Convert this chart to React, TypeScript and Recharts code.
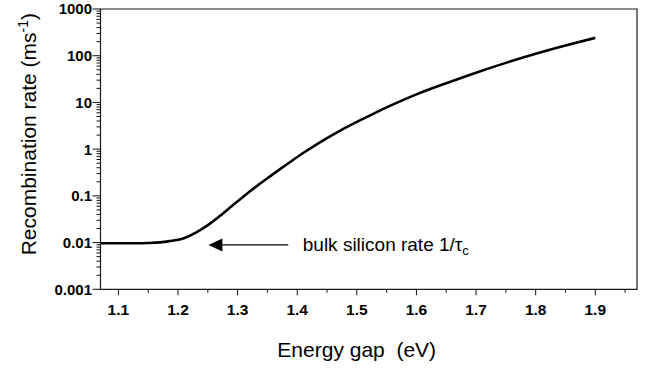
import React from "react";
import { LineChart, Line, XAxis, YAxis, ReferenceArea, ReferenceLine, Label } from "recharts";

// Energy gap (eV)
const energy = [1.07, 1.10, 1.13, 1.15, 1.17, 1.19, 1.21, 1.23, 1.25, 1.27, 1.29, 1.31, 1.33, 1.35, 1.37, 1.39, 1.41, 1.43, 1.45, 1.47, 1.50, 1.53, 1.56, 1.60, 1.65, 1.70, 1.75, 1.80, 1.85, 1.90];
// Recombination rate (ms^-1)
const rate = [0.0097, 0.0097, 0.0097, 0.0098, 0.0101, 0.0109, 0.0124, 0.0163, 0.0236, 0.0369, 0.0598, 0.097, 0.154, 0.238, 0.365, 0.552, 0.826, 1.21, 1.73, 2.41, 3.82, 5.92, 8.95, 14.9, 25.8, 43.4, 70.3, 110, 165, 241];

const xMajorTicks = [1.1, 1.2, 1.3, 1.4, 1.5, 1.6, 1.7, 1.8, 1.9];
const xMinorTicks = [1.15, 1.25, 1.35, 1.45, 1.55, 1.65, 1.75, 1.85, 1.95];
const xTickLabels = ["1.1", "1.2", "1.3", "1.4", "1.5", "1.6", "1.7", "1.8", "1.9"];

const yMajorTicks = [0.001, 0.01, 0.1, 1, 10, 100, 1000];
const yTickLabels = ["0.001", "0.01", "0.1", "1", "10", "100", "1000"];
const yMinorTicks = [
  0.002, 0.003, 0.004, 0.005, 0.006, 0.007, 0.008, 0.009,
  0.02, 0.03, 0.04, 0.05, 0.06, 0.07, 0.08, 0.09,
  0.2, 0.3, 0.4, 0.5, 0.6, 0.7, 0.8, 0.9,
  2, 3, 4, 5, 6, 7, 8, 9,
  20, 30, 40, 50, 60, 70, 80, 90,
  200, 300, 400, 500, 600, 700, 800, 900,
];

const xDomain = [1.07, 1.97];
const yDomain = [0.001, 1000];

const arrowFrom = { x: 1.385, y: 0.0089 };
const arrowTo = { x: 1.251, y: 0.0089 };
const annotationText = "bulk silicon rate 1/τ";
const annotationSub = "c";

const xTitle = "Energy gap  (eV)";
const yTitleMain = "Recombination rate (ms";
const yTitleSup = "-1";

const data = energy.map((e, i) => ({ e, r: rate[i] }));

const FONT = "'Liberation Sans', Arial, sans-serif";

const XTick = (props: any) => {
  const { x, y, payload } = props;
  const idx = xMajorTicks.indexOf(payload.value);
  const major = idx >= 0;
  return (
    <g>
      <line x1={x} x2={x} y1={y} y2={y + (major ? 6 : 3.5)} stroke="#111" strokeWidth={1} />
      {major && (
        <text x={x} y={y + 26} textAnchor="middle" fontFamily={FONT} fontWeight="bold" fontSize={15.5} fill="#000">
          {xTickLabels[idx]}
        </text>
      )}
    </g>
  );
};

const YTick = (props: any) => {
  const { x, y, payload } = props;
  const idx = yMajorTicks.indexOf(payload.value);
  const major = idx >= 0;
  return (
    <g>
      <line x1={x - (major ? 8 : 4)} x2={x} y1={y} y2={y} stroke="#111" strokeWidth={1} />
      {major && (
        <text x={x - 8.5} y={y} dy="0.36em" textAnchor="end" fontFamily={FONT} fontWeight="bold" fontSize={15} fill="#000">
          {yTickLabels[idx]}
        </text>
      )}
    </g>
  );
};

const ArrowShape = (props: any) => {
  const { x1, y1, x2, y2 } = props;
  const head = 14;
  return (
    <g>
      <line x1={x1} y1={y1} x2={x2 + head - 1} y2={y2} stroke="#000" strokeWidth={1.3} />
      <polygon points={`${x2},${y2} ${x2 + head},${y2 - 6.5} ${x2 + head},${y2 + 6.5}`} fill="#000" />
      <text x={x1 + 14.5} y={y1 + 6} fontFamily={FONT} fontSize={19} fill="#000">
        {annotationText}
        <tspan dy={4} fontSize={13}>{annotationSub}</tspan>
      </text>
    </g>
  );
};

const XTitle = (props: any) => {
  const vb = props.viewBox;
  return (
    <text
      x={vb.x + vb.width / 2 - 12}
      y={vb.y + 68}
      textAnchor="middle"
      fontFamily={FONT}
      fontSize={21}
      fill="#000"
      style={{ whiteSpace: "pre" }}
    >
      {xTitle}
    </text>
  );
};

const YTitle = (props: any) => {
  const vb = props.viewBox;
  const cx = vb.x + 36;
  const cy = vb.y + vb.height / 2 - 15;
  return (
    <text x={cx} y={cy} transform={`rotate(-90, ${cx}, ${cy})`} textAnchor="middle" fontFamily={FONT} fontSize={21} fill="#000">
      {yTitleMain}
      <tspan dy={-8} fontSize={14}>{yTitleSup}</tspan>
      <tspan dy={8}>)</tspan>
    </text>
  );
};

export default function App() {
  return (
    <div style={{ position: "absolute", left: 0, top: 0, width: 646, height: 368, background: "#fff" }}>
      <LineChart width={646} height={368} data={data} margin={{ top: 9, right: 9, bottom: 0, left: 0 }}>
        <XAxis
          dataKey="e"
          type="number"
          domain={xDomain}
          allowDataOverflow
          ticks={[...xMajorTicks, ...xMinorTicks]}
          interval={0}
          tickSize={0}
          tickMargin={0}
          axisLine={false}
          tickLine={false}
          tick={<XTick />}
          height={78.7}
        >
          <Label content={<XTitle />} />
        </XAxis>
        <YAxis
          type="number"
          scale="log"
          domain={yDomain}
          allowDataOverflow
          ticks={[...yMajorTicks, ...yMinorTicks]}
          interval={0}
          tickSize={0}
          tickMargin={0}
          axisLine={false}
          tickLine={false}
          tick={<YTick />}
          width={100.5}
        >
          <Label content={<YTitle />} />
        </YAxis>
        <ReferenceArea
          x1={xDomain[0]}
          x2={xDomain[1]}
          y1={yDomain[0]}
          y2={yDomain[1]}
          fill="none"
          fillOpacity={0}
          stroke="#1a1a1a"
          strokeWidth={1.2}
          ifOverflow="visible"
        />
        <ReferenceLine segment={[arrowFrom, arrowTo]} shape={ArrowShape} ifOverflow="visible" />
        <Line
          type="monotone"
          dataKey="r"
          stroke="#000"
          strokeWidth={2.6}
          dot={false}
          isAnimationActive={false}
        />
      </LineChart>
    </div>
  );
}
